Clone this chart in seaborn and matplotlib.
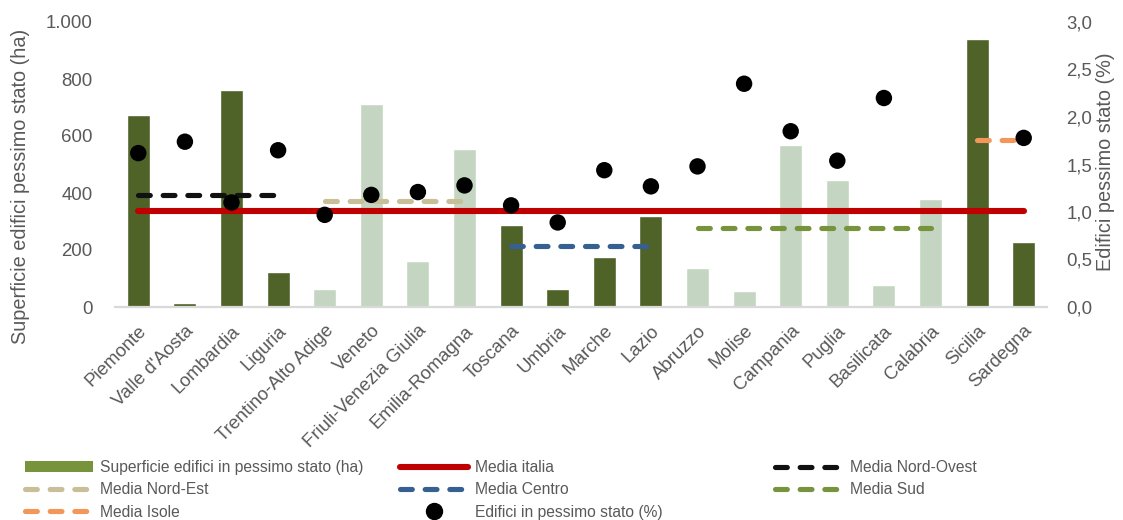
import numpy as np
import pandas as pd
import matplotlib
matplotlib.use("Agg")
import matplotlib.pyplot as plt
import seaborn as sns
from matplotlib import font_manager
from matplotlib.lines import Line2D
from matplotlib.patches import Patch
from matplotlib.ticker import FuncFormatter, MultipleLocator

# ---------------- data ----------------
regions = ["Piemonte", "Valle d'Aosta", "Lombardia", "Liguria", "Trentino-Alto Adige",
           "Veneto", "Friuli-Venezia Giulia", "Emilia-Romagna", "Toscana", "Umbria",
           "Marche", "Lazio", "Abruzzo", "Molise", "Campania", "Puglia", "Basilicata",
           "Calabria", "Sicilia", "Sardegna"]
macro_area = ["Nord-Ovest"] * 4 + ["Nord-Est"] * 4 + ["Centro"] * 4 + ["Sud"] * 6 + ["Isole"] * 2
area_ha = [674, 14, 761, 123, 63, 712, 161, 554, 288, 63,
           175, 319, 137, 56, 568, 446, 77, 379, 940, 228]
pct_bad = [1.62, 1.74, 1.10, 1.65, 0.97, 1.18, 1.21, 1.28, 1.07, 0.89,
           1.44, 1.27, 1.48, 2.35, 1.85, 1.54, 2.20, np.nan, np.nan, 1.78]
mean_names = ["Media italia", "Media Nord-Ovest", "Media Nord-Est", "Media Centro", "Media Sud", "Media Isole"]
mean_values = [1.01, 1.18, 1.12, 0.64, 0.83, 1.76]
mean_from = ["Piemonte", "Piemonte", "Trentino-Alto Adige", "Toscana", "Abruzzo", "Sicilia"]
mean_to = ["Sardegna", "Liguria", "Emilia-Romagna", "Lazio", "Calabria", "Sardegna"]

# ---------------- style ----------------
DARK = "#4F6228"
LIGHT = "#C4D6C2"
LEG_GREEN = "#77933C"
GRAY = "#595959"
line_colors = {"Media italia": "#C00000", "Media Nord-Ovest": "#111111", "Media Nord-Est": "#C8BF98",
               "Media Centro": "#376092", "Media Sud": "#77933C", "Media Isole": "#F3965A"}
tone_of = {"Nord-Ovest": "scuro", "Nord-Est": "chiaro", "Centro": "scuro", "Sud": "chiaro", "Isole": "scuro"}

sns.set_theme(style="white")
names = {f.name for f in font_manager.fontManager.ttflist}
if "Liberation Sans Narrow" in names:
    FAM = ["Liberation Sans Narrow", "DejaVu Sans"]
    k = 1.0
else:
    FAM = ["Liberation Sans", "DejaVu Sans"]
    k = 0.84
plt.rcParams["font.family"] = FAM

W, H = 1123, 520
fig = plt.figure(figsize=(W / 100, H / 100), dpi=100)
L, R, T, B = 115, 1047, 22, 307
fig.subplots_adjust(left=L / W, right=R / W, top=1 - T / H, bottom=1 - B / H)
ax = fig.add_subplot(111)

df = pd.DataFrame({"Regione": regions, "Superficie": area_ha,
                   "Tono": [tone_of[m] for m in macro_area]})
sns.barplot(data=df, x="Regione", y="Superficie", hue="Tono",
            palette={"scuro": DARK, "chiaro": LIGHT}, dodge=False, width=0.49,
            saturation=1, legend=False, ax=ax, order=regions)

ax2 = ax.twinx()
pos = np.arange(len(regions))

LW_SOLID = 4.4
LW_DASH = 3.7
DASH = (0, (2.3, 2.5))
for name, val, a, b in zip(mean_names, mean_values, mean_from, mean_to):
    xs = [regions.index(a), regions.index(b)]
    ls = "-" if name == "Media italia" else DASH
    lw = LW_SOLID if name == "Media italia" else LW_DASH
    sns.lineplot(x=xs, y=[val, val], ax=ax2, color=line_colors[name], linewidth=lw,
                 linestyle=ls, solid_capstyle="round", dash_capstyle="round",
                 legend=False, zorder=3)

sns.scatterplot(x=pos, y=pct_bad, ax=ax2, color="black", s=140, edgecolor="none",
                linewidth=0, zorder=5, legend=False)

# ---------------- axes ----------------
ax.set_xlim(-0.5, len(regions) - 0.5)
ax.set_ylim(0, 1000)
ax2.set_ylim(0, 3)
ax.yaxis.set_major_locator(MultipleLocator(200))
ax2.yaxis.set_major_locator(MultipleLocator(0.5))
ax.yaxis.set_major_formatter(FuncFormatter(lambda v, p: f"{int(round(v)):,}".replace(",", ".")))
ax2.yaxis.set_major_formatter(FuncFormatter(lambda v, p: f"{v:.1f}".replace(".", ",")))

ax.set_xticks(pos)
ax.set_xticklabels(regions, rotation=45, ha="right", va="top", rotation_mode="anchor",
                   fontsize=16 * k, color=GRAY)
ax.tick_params(axis="x", length=0, pad=11)
ax.tick_params(axis="y", length=0, pad=16, labelsize=16 * k, labelcolor=GRAY)
ax2.tick_params(axis="y", length=0, pad=14, labelsize=16 * k, labelcolor=GRAY)
ax.set_xlabel("")
ax.set_ylabel("Superficie edifici pessimo stato (ha)", fontsize=17 * k, color=GRAY)
ax2.set_ylabel("Edifici pessimo stato (%)", fontsize=17 * k, color=GRAY)
ax.yaxis.set_label_coords((30 - L) / (R - L), (B - 186) / (B - T))
ax2.yaxis.set_label_coords((1096 - L) / (R - L), (B - 162) / (B - T))

for s in ["left", "right", "top"]:
    ax.spines[s].set_visible(False)
for s in ax2.spines.values():
    s.set_visible(False)
ax.spines["bottom"].set_color("#D9D9D9")
ax.spines["bottom"].set_linewidth(1.6)

# ---------------- legend ----------------
def dash_handle(name):
    return Line2D([], [], color=line_colors[name], linewidth=LW_DASH, linestyle=DASH,
                  dash_capstyle="round")

h_area = Patch(facecolor=LEG_GREEN, edgecolor="none")
h_it = Line2D([], [], color=line_colors["Media italia"], linewidth=LW_SOLID, solid_capstyle="round")
h_dot = Line2D([], [], color="black", marker="o", linestyle="none", markersize=11.5)

cols = [
    ([h_area, dash_handle("Media Nord-Est"), dash_handle("Media Isole")],
     ["Superficie edifici in pessimo stato (ha)", "Media Nord-Est", "Media Isole"], 25),
    ([h_it, dash_handle("Media Centro"), h_dot],
     ["Media italia", "Media Centro", "Edifici in pessimo stato (%)"], 400),
    ([dash_handle("Media Nord-Ovest"), dash_handle("Media Sud")],
     ["Media Nord-Ovest", "Media Sud"], 775),
]
fs_leg = 13.4 * k
fs_px = fs_leg * 100 / 72
for handles, labels, x0 in cols:
    fig.legend(handles, labels, loc="upper left", bbox_to_anchor=(x0 / W, 1 - 460 / H),
               frameon=False, borderpad=0, borderaxespad=0, fontsize=fs_leg,
               labelcolor=GRAY, handlelength=68 / fs_px, handleheight=10 / fs_px,
               handletextpad=7 / fs_px, labelspacing=0.47)

fig.savefig("out.png", dpi=100)
